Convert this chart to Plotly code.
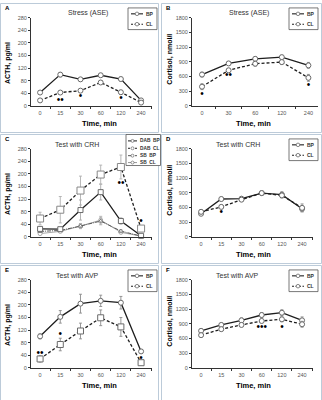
import plotly.graph_objects as go

W, H = 322, 400

# ---------------- data ----------------
time6 = ["0", "15", "30", "60", "120", "240"]
time5 = ["0", "30", "60", "120", "240"]

# A: ACTH, stress (ASE)
a_bp = [42, 99, 84, 97, 85, 17]
a_bp_err = [5, 7, 6, 6, 6, 4]
a_cl = [17, 42, 48, 74, 43, 10]
a_cl_err = [5, 5, 5, 6, 6, 3]
a_sig_x = ["15", "30", "120"]
a_sig_y = [18, 28, 22]
a_sig_t = ["••", "•", "•"]

# B: Cortisol, stress (ASE)
b_bp = [638, 866, 960, 994, 826]
b_bp_err = [50, 40, 40, 40, 60]
b_cl = [390, 725, 860, 893, 571]
b_cl_err = [60, 40, 50, 50, 70]
b_sig_x = ["0", "30", "240"]
b_sig_y = [235, 610, 423]
b_sig_t = ["•", "••", "•"]

# C: ACTH, test with CRH
c_dab_bp = [25, 24, 85, 142, 50, 3]
c_dab_bp_err = [5, 5, 32, 25, 10, 2]
c_dab_cl = [58, 86, 147, 198, 222, 26]
c_dab_cl_err = [20, 42, 46, 30, 38, 5]
c_sb_bp = [17, 20, 34, 50, 18, 2]
c_sb_bp_err = [3, 3, 8, 12, 5, 1]
c_sb_cl = [10, 17, 34, 53, 14, 2]
c_sb_cl_err = [3, 3, 8, 12, 4, 1]
c_sig_x = ["120", "240"]
c_sig_y = [170, 48]
c_sig_t = ["••", "•"]

# D: Cortisol, test with CRH
d_bp = [470, 772, 779, 893, 860, 571]
d_bp_err = [30, 40, 40, 40, 60, 60]
d_cl = [510, 611, 759, 893, 846, 591]
d_cl_err = [40, 40, 40, 40, 50, 80]
d_sig_x = ["15"]
d_sig_y = [490]
d_sig_t = ["•"]

# E: ACTH, test with AVP
e_bp = [100, 162, 204, 213, 207, 52]
e_bp_err = [8, 20, 30, 18, 20, 5]
e_cl = [28, 74, 117, 159, 130, 16]
e_cl_err = [10, 20, 25, 25, 30, 5]
e_sig_x = ["0", "15", "240"]
e_sig_y = [46, 107, 30]
e_sig_t = ["••", "•", "•"]

# F: Cortisol, test with AVP
f_bp = [755, 876, 970, 1079, 1126, 970]
f_bp_err = [40, 40, 50, 50, 60, 70]
f_cl = [667, 789, 876, 957, 991, 890]
f_cl_err = [40, 40, 40, 40, 50, 60]
f_sig_x = ["60", "120"]
f_sig_y = [823, 823]
f_sig_t = ["•••", "•"]

acth_ticks = [0, 40, 80, 120, 160, 200, 240, 280]
cort_ticks = [0, 300, 600, 900, 1200, 1500, 1800]

# ---------------- helpers ----------------
FONT = "Liberation Sans"
LINE = "#1e1e1e"
EDGE = "#6a6a6a"
ERR = "#8c8c8c"


def pxx(x):
    return x / W


def pyy(y):
    return 1 - y / H


fig = go.Figure()
shapes = []
annots = []

COL = [0, 161]
ROW = [0, 133, 266]


def add_series(ax_i, xs, ys, err, dash, color=LINE, symbol="circle", size=5,
               mcolor=EDGE, width=1.3, ecolor=ERR):
    sfx = "" if ax_i == 1 else str(ax_i)
    fig.add_trace(go.Scatter(
        x=xs, y=ys, mode="lines+markers",
        line=dict(color=color, width=width, dash=dash),
        marker=dict(symbol=symbol, size=size, color="white",
                    line=dict(color=mcolor, width=1)),
        error_y=dict(type="data", array=err, color=ecolor, thickness=0.9, width=1.5),
        xaxis="x" + sfx, yaxis="y" + sfx, showlegend=False, cliponaxis=False))


def add_sig(ax_i, xs, ys, txt):
    sfx = "" if ax_i == 1 else str(ax_i)
    fig.add_trace(go.Scatter(
        x=xs, y=ys, mode="text", text=txt,
        textfont=dict(size=10, color="#000000", family="Liberation Sans"),
        xaxis="x" + sfx, yaxis="y" + sfx, showlegend=False, cliponaxis=False))


def setup_axes(ax_i, col, row, cats, yticks, ytitle, title, letter, legend):
    ox, oy = COL[col], ROW[row]
    n = len(cats)
    if n == 6:
        xd = [ox + 31, ox + 152]
        xr = [-0.45, 5.54]
    else:
        xd = [ox + 31, ox + 157]
        xr = [-0.376, 4.36]
    yd = [oy + 15, oy + 104.3]
    sfx = "" if ax_i == 1 else str(ax_i)
    fig.layout["xaxis" + sfx] = dict(
        domain=[pxx(xd[0]), pxx(xd[1])], range=xr, type="category",
        categoryorder="array", categoryarray=cats,
        tickvals=cats, ticktext=cats,
        anchor="y" + sfx, showline=True, linecolor="#333", linewidth=1,
        ticks="outside", ticklen=2, tickcolor="#333", tickson="boundaries",
        showgrid=False, zeroline=False, ticklabelstandoff=2,
        tickfont=dict(family=FONT, size=5.5, color="#555"), fixedrange=True)
    fig.layout["yaxis" + sfx] = dict(
        domain=[pyy(yd[1]), pyy(yd[0])], range=[yticks[0], yticks[-1]],
        tickvals=yticks, anchor="x" + sfx, showline=True, linecolor="#333",
        linewidth=1, ticks="outside", ticklen=2, tickcolor="#333",
        showgrid=False, zeroline=False,
        tickfont=dict(family=FONT, size=5.5, color="#555"), fixedrange=True)
    # panel frame
    shapes.append(dict(type="rect", xref="paper", yref="paper",
                       x0=pxx(ox + 0.5), x1=pxx(ox + 158.5 if col == 0 else ox + 321.5 - 161),
                       y0=pyy(oy + 0.5), y1=pyy(oy + (131.5 if row < 2 else 399.5)),
                       line=dict(color="#bccbd9", width=1)))
    # texts
    annots.append(dict(text="<b>" + letter + "</b>", x=pxx(ox + 3), y=pyy(oy + 5),
                       xref="paper", yref="paper", xanchor="left", yanchor="middle",
                       showarrow=False, font=dict(family=FONT, size=6, color="black")))
    annots.append(dict(text=title, x=pxx(ox + (88 if row == 0 else 77)), y=pyy(oy + 10.5),
                       xref="paper", yref="paper", xanchor="center", yanchor="middle",
                       showarrow=False, font=dict(family=FONT, size=7, color="#333")))
    annots.append(dict(text="<b>" + ytitle + "</b>", x=pxx(ox + (8 if col == 0 else 9.5)),
                       y=pyy(oy + (61 if col == 0 else 57)), textangle=-90,
                       xref="paper", yref="paper", xanchor="center", yanchor="middle",
                       showarrow=False, font=dict(family=FONT, size=7, color="black")))
    annots.append(dict(text="<b>Time, min</b>", x=pxx(ox + (100 if col == 0 else 92)),
                       y=pyy(oy + 122), xref="paper", yref="paper",
                       xanchor="center", yanchor="middle", showarrow=False,
                       font=dict(family=FONT, size=7.5, color="black")))
    # legend
    if legend == "two":
        bx0, bx1, by0, by1 = ox + 128, ox + 157, oy + 5, oy + 27
        shapes.append(dict(type="rect", xref="paper", yref="paper",
                           x0=pxx(bx0), x1=pxx(bx1), y0=pyy(by0), y1=pyy(by1),
                           line=dict(color="#555", width=0.8), fillcolor="white"))
        for lab, dash, yy in (("BP", "solid", oy + 11), ("CL", "dash", oy + 21.5)):
            shapes.append(dict(type="line", xref="paper", yref="paper",
                               x0=pxx(ox + 131), x1=pxx(ox + 143), y0=pyy(yy), y1=pyy(yy),
                               line=dict(color=LINE, width=1.1,
                                         dash="solid" if dash == "solid" else "2px,1.5px")))
            shapes.append(dict(type="circle", xref="paper", yref="paper",
                               x0=pxx(ox + 135.2), x1=pxx(ox + 138.8),
                               y0=pyy(yy - 1.8), y1=pyy(yy + 1.8),
                               line=dict(color=EDGE, width=0.8), fillcolor="white"))
            annots.append(dict(text="<b>" + lab + "</b>", x=pxx(ox + 144), y=pyy(yy),
                               xref="paper", yref="paper", xanchor="left",
                               yanchor="middle", showarrow=False,
                               font=dict(family=FONT, size=5, color="#333")))
    else:
        bx0, bx1, by0, by1 = ox + 126, ox + 160.5, oy + 0.5, oy + 32
        shapes.append(dict(type="rect", xref="paper", yref="paper",
                           x0=pxx(bx0), x1=pxx(bx1), y0=pyy(by0), y1=pyy(by1),
                           line=dict(color="#555", width=0.8), fillcolor="white"))
        items = [("DAB  BP", LINE, "solid", oy + 7),
                 ("DAB  CL", LINE, "2px,1.5px", oy + 14.5),
                 ("SB  BP", "#555", "4px,1px,1px,1px", oy + 22),
                 ("SB  CL", "#999", "solid", oy + 29)]
        for lab, colr, dash, yy in items:
            shapes.append(dict(type="line", xref="paper", yref="paper",
                               x0=pxx(ox + 128), x1=pxx(ox + 137), y0=pyy(yy), y1=pyy(yy),
                               line=dict(color=colr, width=1, dash=dash)))
            shapes.append(dict(type="circle", xref="paper", yref="paper",
                               x0=pxx(ox + 131), x1=pxx(ox + 134),
                               y0=pyy(yy - 1.5), y1=pyy(yy + 1.5),
                               line=dict(color=EDGE, width=0.7), fillcolor="white"))
            annots.append(dict(text="<b>" + lab + "</b>", x=pxx(ox + 137.5), y=pyy(yy),
                               xref="paper", yref="paper", xanchor="left",
                               yanchor="middle", showarrow=False,
                               font=dict(family=FONT, size=4.8, color="#333")))


# ---------------- panels ----------------
setup_axes(1, 0, 0, time6, acth_ticks, "ACTH, pg/ml", "Stress (ASE)", "A", "two")
add_series(1, time6, a_bp, a_bp_err, "solid")
add_series(1, time6, a_cl, a_cl_err, "3px,2px")
add_sig(1, a_sig_x, a_sig_y, a_sig_t)

setup_axes(2, 1, 0, time5, cort_ticks, "Cortisol, nmol/l", "Stress (ASE)", "B", "two")
add_series(2, time5, b_bp, b_bp_err, "solid")
add_series(2, time5, b_cl, b_cl_err, "3px,2px")
add_sig(2, b_sig_x, b_sig_y, b_sig_t)

setup_axes(3, 0, 1, time6, acth_ticks, "ACTH, pg/ml", "Test with CRH", "C", "four")
add_series(3, time6, c_sb_cl, c_sb_cl_err, "solid", color="#a8a8a8", symbol="circle",
           size=4, mcolor="#aaa", width=1, ecolor="#b5b5b5")
add_series(3, time6, c_sb_bp, c_sb_bp_err, "4px,1px,1px,1px", color="#555",
           symbol="triangle-up", size=4, mcolor="#777", width=1, ecolor="#b0b0b0")
add_series(3, time6, c_dab_bp, c_dab_bp_err, "solid", symbol="square", size=5,
           ecolor="#aaa")
add_series(3, time6, c_dab_cl, c_dab_cl_err, "3px,2px", symbol="square", size=7,
           mcolor="#888", ecolor="#b0b0b0")
add_sig(3, c_sig_x, c_sig_y, c_sig_t)

setup_axes(4, 1, 1, time6, cort_ticks, "Cortisol, nmol/l", "Test with CRH", "D", "two")
add_series(4, time6, d_bp, d_bp_err, "solid")
add_series(4, time6, d_cl, d_cl_err, "3px,2px")
add_sig(4, d_sig_x, d_sig_y, d_sig_t)

setup_axes(5, 0, 2, time6, acth_ticks, "ACTH, pg/ml", "Test with AVP", "E", "two")
add_series(5, time6, e_bp, e_bp_err, "solid")
add_series(5, time6, e_cl, e_cl_err, "3px,2px", symbol="square", size=6)
add_sig(5, e_sig_x, e_sig_y, e_sig_t)

setup_axes(6, 1, 2, time6, cort_ticks, "Cortisol, nmol/l", "Test with AVP", "F", "two")
add_series(6, time6, f_bp, f_bp_err, "solid")
add_series(6, time6, f_cl, f_cl_err, "3px,2px")
add_sig(6, f_sig_x, f_sig_y, f_sig_t)

fig.update_layout(
    width=W, height=H, margin=dict(l=0, r=0, t=0, b=0),
    paper_bgcolor="white", plot_bgcolor="white",
    shapes=shapes, annotations=annots, showlegend=False,
    font=dict(family=FONT),
)

fig.write_html(
    "out.html",
    config={"displayModeBar": False},
    post_script="document.body.style.margin='0';document.body.style.overflow='hidden';",
)
